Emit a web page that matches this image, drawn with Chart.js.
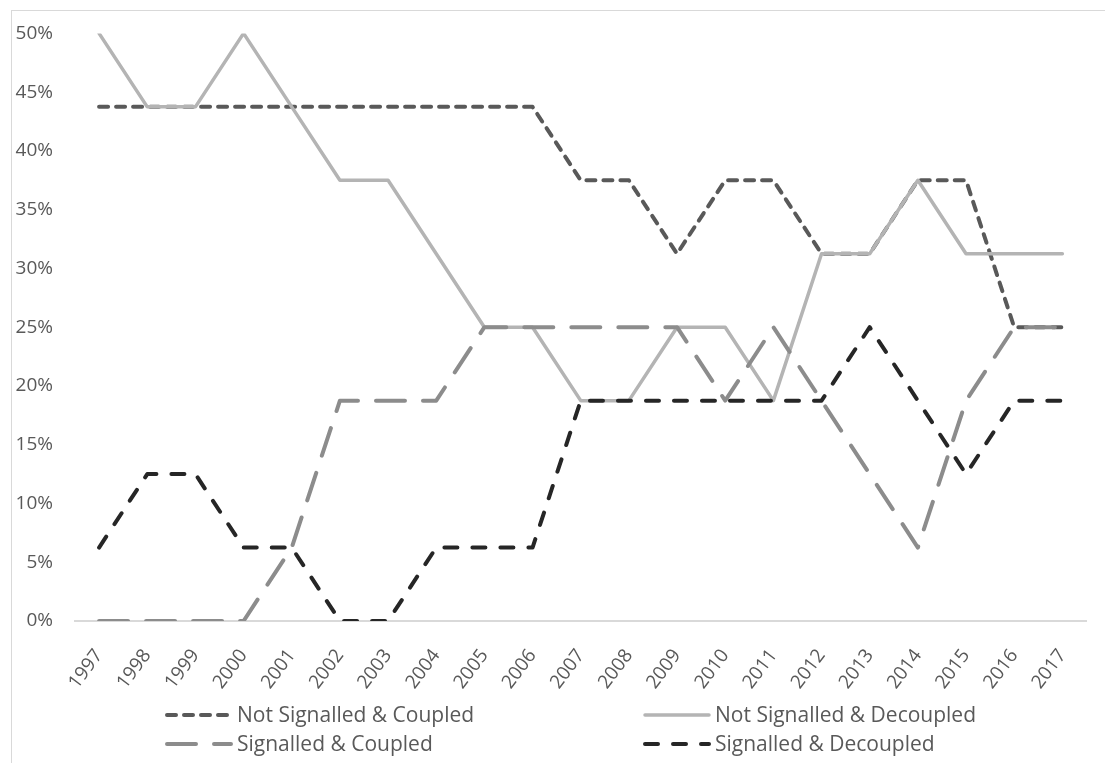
<!DOCTYPE html>
<html>
<head>
<meta charset="utf-8">
<script src="https://cdn.jsdelivr.net/npm/chart.js@4/dist/chart.umd.min.js"></script>
<style>
  html, body { margin: 0; padding: 0; background: #fff; overflow: hidden; }
  #wrap { position: relative; width: 1105px; height: 763px; }
  #frame { position: absolute; left: 11px; top: 10px; width: 1200px; height: 900px; border: 1px solid #d9d9d9; box-sizing: border-box; }
  canvas { position: absolute; left: 0; top: 0; }
</style>
</head>
<body>
<div id="wrap">
  <div id="frame"></div>
  <canvas id="chart" width="1105" height="763"></canvas>
</div>
<script>
// Years on the category axis
const years = ['1997','1998','1999','2000','2001','2002','2003','2004','2005','2006','2007',
               '2008','2009','2010','2011','2012','2013','2014','2015','2016','2017'];

// Share of cases per group, in percent
const notSignalledCoupled   = [43.75,43.75,43.75,43.75,43.75,43.75,43.75,43.75,43.75,43.75,37.5,
                               37.5,31.25,37.5,37.5,31.25,31.25,37.5,37.5,25,25];
const notSignalledDecoupled = [50,43.75,43.75,50,43.75,37.5,37.5,31.25,25,25,18.75,
                               18.75,25,25,18.75,31.25,31.25,37.5,31.25,31.25,31.25];
const signalledCoupled      = [0,0,0,0,6.25,18.75,18.75,18.75,25,25,25,
                               25,25,18.75,25,18.75,12.5,6.25,18.75,25,25];
const signalledDecoupled    = [6.25,12.5,12.5,6.25,6.25,0,0,6.25,6.25,6.25,18.75,
                               18.75,18.75,18.75,18.75,18.75,25,18.75,12.5,18.75,18.75];

const seriesNames = ['Not Signalled & Coupled','Not Signalled & Decoupled',
                     'Signalled & Coupled','Signalled & Decoupled'];

const FONT = '"Open Sans", "Noto Sans", sans-serif';
const TEXT = '#595959';

function lineSet(label, data, color, width, dash, order) {
  return {
    label, data,
    borderColor: color, backgroundColor: color,
    borderWidth: width, borderDash: dash,
    borderCapStyle: 'round', borderJoinStyle: 'round',
    pointRadius: 0, pointHoverRadius: 0,
    tension: 0, fill: false, order
  };
}

// Two-column legend under the axis
const legendSlots = [
  { x0: 167, x1: 231, tx: 237, y: 715 },
  { x0: 645, x1: 709, tx: 715, y: 715 },
  { x0: 167, x1: 231, tx: 237, y: 744 },
  { x0: 645, x1: 709, tx: 715, y: 744 }
];

const gridLegend = {
  id: 'gridLegend',
  afterDraw(chart) {
    const ctx = chart.ctx;
    chart.data.datasets.forEach((ds, i) => {
      const s = legendSlots[i];
      ctx.save();
      ctx.strokeStyle = ds.borderColor;
      ctx.lineWidth = ds.borderWidth;
      ctx.lineCap = 'round';
      ctx.setLineDash(ds.borderDash || []);
      ctx.beginPath();
      ctx.moveTo(s.x0, s.y);
      ctx.lineTo(s.x1, s.y);
      ctx.stroke();
      ctx.setLineDash([]);
      ctx.fillStyle = TEXT;
      ctx.font = '21px ' + FONT;
      ctx.textBaseline = 'middle';
      ctx.textAlign = 'left';
      ctx.fillText(ds.label, s.tx, s.y + 1);
      ctx.restore();
    });
  }
};

new Chart(document.getElementById('chart'), {
  type: 'line',
  data: {
    labels: years,
    datasets: [
      lineSet(seriesNames[0], notSignalledCoupled,   '#595959', 4,   [9, 8],   4),
      lineSet(seriesNames[1], notSignalledDecoupled, '#b4b4b4', 3.5, [],       3),
      lineSet(seriesNames[2], signalledCoupled,      '#8c8c8c', 4,   [29, 18], 2),
      lineSet(seriesNames[3], signalledDecoupled,    '#262626', 4,   [13, 15], 1)
    ]
  },
  options: {
    responsive: false,
    animation: false,
    layout: { padding: { left: 0, right: 18, top: 31, bottom: 66 } },
    plugins: { legend: { display: false }, tooltip: { enabled: false } },
    scales: {
      x: {
        offset: true,
        grid: { display: false, drawTicks: false },
        border: { display: true, color: '#d9d9d9', width: 2 },
        ticks: {
          color: TEXT, font: { family: FONT, size: 19 },
          minRotation: 53, maxRotation: 53, padding: 24, autoSkip: false
        },
        afterFit(scale) { scale.height = 76; }
      },
      y: {
        min: 0, max: 50,
        grid: { display: false, drawTicks: false },
        border: { display: false },
        ticks: {
          stepSize: 5, color: TEXT, font: { family: FONT, size: 19 }, padding: 22,
          callback: v => Math.round(v) + '%'
        },
        afterFit(scale) { scale.width = 75; }
      }
    }
  },
  plugins: [gridLegend]
});
</script>
</body>
</html>
